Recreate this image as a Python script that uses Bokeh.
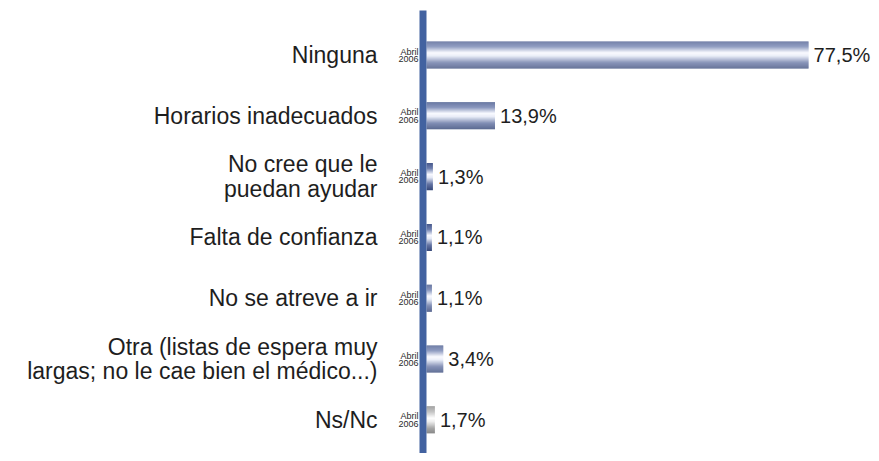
from bokeh.plotting import figure
from bokeh.models import ColumnDataSource, Range1d
from bokeh.core.properties import value
from bokeh.embed import file_html
from bokeh.resources import INLINE

# ---- data ----
categories = [
    "Ninguna",
    "Horarios inadecuados",
    "No cree que le\npuedan ayudar",
    "Falta de confianza",
    "No se atreve a ir",
    "Otra (listas de espera muy\nlargas; no le cae bien el médico...)",
    "Ns/Nc",
]
values = [77.5, 13.9, 1.3, 1.1, 1.1, 3.4, 1.7]
value_labels = ["77,5%", "13,9%", "1,3%", "1,1%", "1,1%", "3,4%", "1,7%"]
period_line1 = "Abril"
period_line2 = "2006"
grey_categories = ["Ns/Nc"]

FONT = "Liberation Sans"
W, H = 871, 453
PX_PER_UNIT = 4.93
ZERO_PX = 426
ROW_PX = 60.8
ROW0_PX = 54.5

p = figure(width=W, height=H, output_backend="svg", toolbar_location=None,
           min_border=0, x_axis_type=None, y_axis_type=None)
p.x_range = Range1d(-ZERO_PX / PX_PER_UNIT, (W - ZERO_PX) / PX_PER_UNIT)
p.y_range = Range1d(-(H - ROW0_PX) / ROW_PX, ROW0_PX / ROW_PX)
p.outline_line_color = None
p.grid.visible = False
p.background_fill_color = "white"
p.border_fill_color = "white"

ys = [-i for i in range(len(categories))]

# ---- gradient bars (stacked thin strips) ----
def lerp(c1, c2, t):
    return tuple(int(round(a + (b - a) * t)) for a, b in zip(c1, c2))

def grad(stops, t):
    for (t0, c0), (t1, c1) in zip(stops[:-1], stops[1:]):
        if t0 <= t <= t1:
            return lerp(c0, c1, (t - t0) / (t1 - t0) if t1 > t0 else 0)
    return stops[-1][1]

blue_stops = [(0.0, (70, 88, 140)), (0.2, (110, 127, 175)), (0.42, (248, 249, 255)),
              (0.54, (228, 233, 246)), (0.78, (100, 116, 163)), (1.0, (55, 72, 122))]
grey_stops = [(0.0, (140, 140, 140)), (0.2, (180, 180, 180)), (0.45, (255, 255, 255)),
              (0.58, (232, 232, 232)), (0.82, (145, 145, 145)), (1.0, (110, 110, 110))]

BAR_H = 27 / ROW_PX
N = 27
sx, sy, sc = [], [], []
for cat, v, y in zip(categories, values, ys):
    stops = grey_stops if cat in grey_categories else blue_stops
    for k in range(N):
        t = (k + 0.5) / N
        sx.append(v)
        sy.append(y + BAR_H / 2 - (k + 0.5) * BAR_H / N)
        sc.append("#%02x%02x%02x" % grad(stops, t))
strips = ColumnDataSource(dict(right=sx, y=sy, color=sc))
p.hbar(y="y", left=0, right="right", height=BAR_H / N * 1.05, fill_color="color",
       line_color=None, source=strips)

# ---- vertical axis line ----
p.quad(left=-7 / PX_PER_UNIT, right=0, top=(ROW0_PX - 10) / ROW_PX,
       bottom=-(H - ROW0_PX) / ROW_PX, fill_color="#4262a0", line_color=None)

src = ColumnDataSource(dict(y=ys, v=values, cat=categories, lab=value_labels,
                            p1=[period_line1] * len(ys), p2=[period_line2] * len(ys)))

# category labels
p.text(x=0, y="y", text="cat", source=src, x_offset=-49, text_align="right",
       text_baseline="middle", text_font=value(FONT), text_font_size="23px",
       text_line_height=0.95, text_color="#1e1e1e")

# period labels
p.text(x=0, y="y", text="p1", source=src, x_offset=-8, y_offset=-3.5, text_align="right",
       text_baseline="middle", text_font=value(FONT), text_font_size="9px",
       text_color="#2a2a2a")
p.text(x=0, y="y", text="p2", source=src, x_offset=-8, y_offset=3.8, text_align="right",
       text_baseline="middle", text_font=value(FONT), text_font_size="9px",
       text_color="#2a2a2a")

# value labels
p.text(x="v", y="y", text="lab", source=src, x_offset=5, text_align="left",
       text_baseline="middle", text_font=value(FONT), text_font_size="20px",
       text_color="#1e1e1e")

open("out.html", "w").write(file_html(p, INLINE))
